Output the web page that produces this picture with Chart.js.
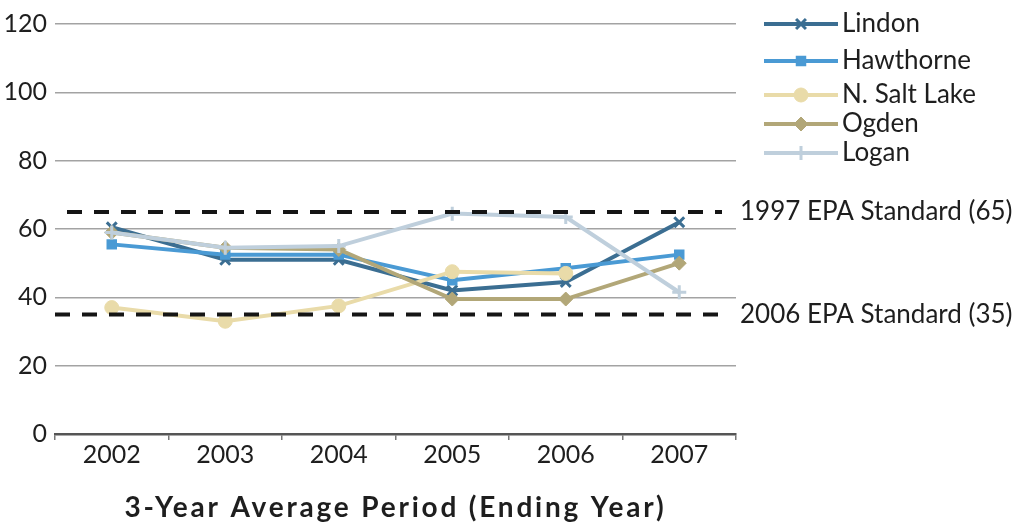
<!DOCTYPE html>
<html>
<head>
<meta charset="utf-8">
<script src="https://cdn.jsdelivr.net/npm/chart.js@4/dist/chart.umd.min.js"></script>
<style>
  html, body { margin: 0; padding: 0; background: #fff; }
  #wrap { width: 1016px; height: 525px; position: relative; }
</style>
</head>
<body>
<div id="wrap"><canvas id="c" width="1016" height="525"></canvas></div>
<script>
// Ending year of each 3-year averaging period
const years = ['2002', '2003', '2004', '2005', '2006', '2007'];

// 3-year average concentrations by monitoring site
const lindon     = [60.5, 51, 51, 42, 44.5, 62];
const hawthorne  = [55.5, 52.5, 52.5, 45, 48.5, 52.5];
const nSaltLake  = [37, 33, 37.5, 47.5, 47, null];
const ogden      = [59, 54.5, 54, 39.5, 39.5, 50];
const logan      = [59, 54.5, 55, 64.5, 63.5, 41.5];

// EPA standards drawn as dashed reference lines
const standardValues = [65, 35];
const standardLabels = ['1997 EPA Standard (65)', '2006 EPA Standard (35)'];

// Y axis ticks
const yTicks = [0, 20, 40, 60, 80, 100, 120];

const FONT = 'Lato, "Open Sans", sans-serif';
const TEXT = '#1e1e1e';

const series = [
  { label: 'Lindon',       data: lindon,    color: '#3b6e92', style: 'crossRot', radius: 7, bw: 3 },
  { label: 'Hawthorne',    data: hawthorne, color: '#4a9ad4', style: 'rect',     radius: 6, bw: 2 },
  { label: 'N. Salt Lake', data: nSaltLake, color: '#e9dba9', style: 'circle',   radius: 7, bw: 1 },
  { label: 'Ogden',        data: ogden,     color: '#b2a778', style: 'rectRot',  radius: 7, bw: 1 },
  { label: 'Logan',        data: logan,     color: '#bfcfdc', style: 'cross',    radius: 7, bw: 3 }
];

function drawMarker(ctx, s, x, y) {
  if (Chart.helpers && Chart.helpers.drawPoint) {
    ctx.save();
    ctx.fillStyle = s.color;
    ctx.strokeStyle = s.color;
    ctx.lineWidth = s.bw;
    Chart.helpers.drawPoint(ctx, { pointStyle: s.style, radius: s.radius, rotation: 0, borderWidth: s.bw }, x, y);
    ctx.restore();
  }
}

// Legend stacked at the upper right
const sideLegend = {
  id: 'sideLegend',
  afterDraw(chart, args, opts) {
    const ctx = chart.ctx;
    ctx.save();
    series.forEach((s, i) => {
      const y = opts.rows[i];
      ctx.strokeStyle = s.color;
      ctx.lineWidth = 4;
      ctx.beginPath();
      ctx.moveTo(opts.x0, y);
      ctx.lineTo(opts.x1, y);
      ctx.stroke();
      drawMarker(ctx, s, (opts.x0 + opts.x1) / 2, y);
      ctx.fillStyle = TEXT;
      ctx.font = '26px ' + FONT;
      ctx.textAlign = 'left';
      ctx.textBaseline = 'middle';
      ctx.fillText(s.label, opts.textX, y);
    });
    ctx.restore();
  }
};

// Dashed standard lines with their labels
const standards = {
  id: 'standards',
  afterDatasetsDraw(chart, args, opts) {
    const ctx = chart.ctx;
    const yScale = chart.scales.y;
    const area = chart.chartArea;
    ctx.save();
    standardValues.forEach((v, i) => {
      const y = yScale.getPixelForValue(v);
      ctx.strokeStyle = '#151515';
      ctx.lineWidth = 4;
      ctx.setLineDash([15, 12]);
      ctx.beginPath();
      ctx.moveTo(area.left + opts.inset[i], y);
      ctx.lineTo(area.right - 14, y);
      ctx.stroke();
      ctx.setLineDash([]);
      ctx.fillStyle = TEXT;
      ctx.font = '26px ' + FONT;
      ctx.textAlign = 'left';
      ctx.textBaseline = 'middle';
      ctx.fillText(standardLabels[i], opts.labelX, y);
    });
    ctx.restore();
  }
};

// Bold, letter-spaced axis title under the year labels
const xTitle = {
  id: 'xTitle',
  afterDraw(chart, args, opts) {
    const ctx = chart.ctx;
    const area = chart.chartArea;
    ctx.save();
    ctx.fillStyle = TEXT;
    ctx.font = 'bold 28px ' + FONT;
    if ('letterSpacing' in ctx) ctx.letterSpacing = '2.8px';
    ctx.textAlign = 'center';
    ctx.textBaseline = 'middle';
    ctx.fillText(opts.text, (area.left + area.right) / 2, opts.y);
    ctx.restore();
  }
};

new Chart(document.getElementById('c'), {
  type: 'line',
  data: {
    labels: years,
    datasets: series.map((s, i) => ({
      label: s.label,
      data: s.data,
      borderColor: s.color,
      backgroundColor: s.color,
      borderWidth: 4,
      pointStyle: s.style,
      pointRadius: s.radius,
      pointBorderWidth: s.bw,
      pointBorderColor: s.color,
      pointBackgroundColor: s.color,
      tension: 0,
      spanGaps: false,
      order: series.length - 1 - i
    }))
  },
  options: {
    responsive: false,
    animation: false,
    devicePixelRatio: 1,
    layout: { padding: { left: 0, right: 280, top: 24, bottom: 0 } },
    plugins: {
      legend: { display: false },
      tooltip: { enabled: false },
      sideLegend: { x0: 764, x1: 838, textX: 842, rows: [24, 61, 95, 124, 153] },
      standards: { inset: [12, 0], labelX: 740 },
      xTitle: { text: '3-Year Average Period (Ending Year)', y: 508 }
    },
    scales: {
      x: {
        offset: true,
        grid: { offset: true, drawOnChartArea: false, drawTicks: true, tickLength: 6, color: '#777', lineWidth: 1.5 },
        border: { display: true, color: '#555', width: 2.5 },
        ticks: { color: TEXT, font: { family: FONT, size: 25 }, padding: 0, maxRotation: 0 },
        afterFit(scale) { scale.height = 91; }
      },
      y: {
        min: 0,
        max: 120,
        afterBuildTicks(scale) { scale.ticks = yTicks.map(v => ({ value: v })); },
        grid: { color: '#a3a3a3', lineWidth: 1.5, drawTicks: false },
        border: { display: false },
        ticks: { color: TEXT, font: { family: FONT, size: 25 }, padding: 8 },
        afterFit(scale) { scale.width = 55; }
      }
    }
  },
  plugins: [standards, sideLegend, xTitle]
});
</script>
</body>
</html>
